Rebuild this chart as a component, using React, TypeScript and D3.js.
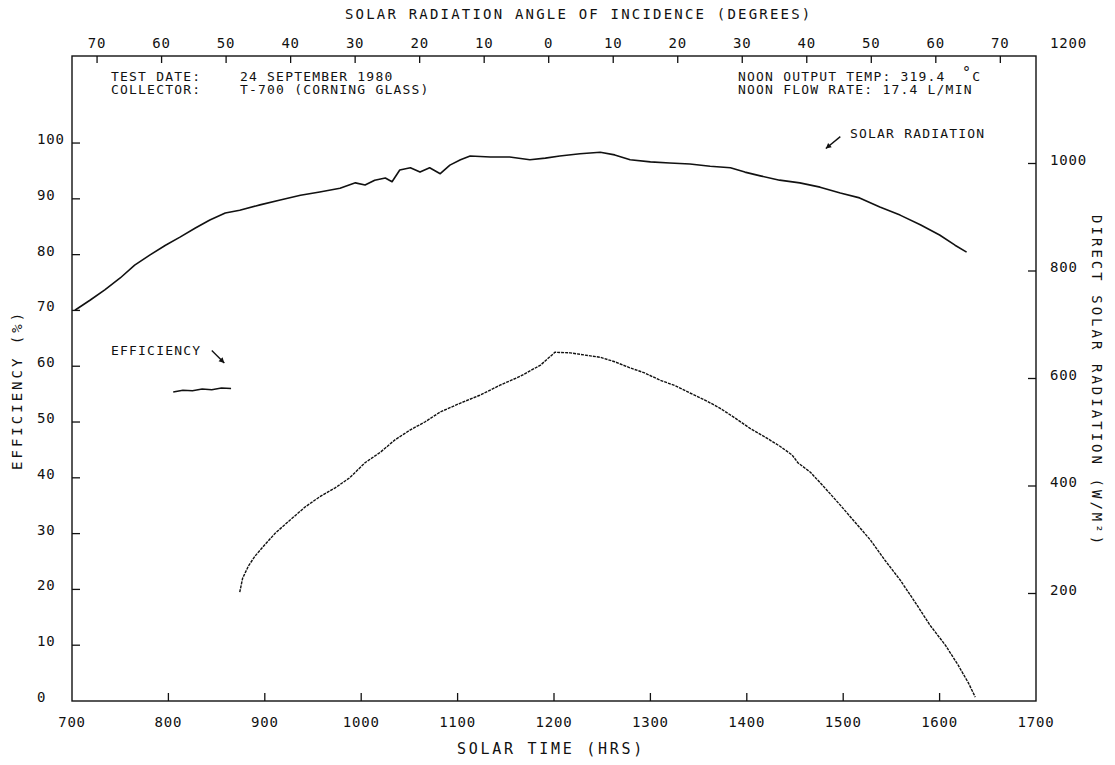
import React from "react";
import * as d3 from "d3";

// ---------- data ----------
// solar time in decimal hours, direct solar radiation in W/m²
const solarTime = [7.03, 7.19, 7.34, 7.50, 7.65, 7.81, 7.97, 8.12, 8.28, 8.43, 8.59, 8.74, 8.95, 9.16, 9.37, 9.57, 9.78, 9.94, 10.04, 10.14, 10.25, 10.32, 10.40, 10.51, 10.61, 10.71, 10.82, 10.92, 11.03, 11.13, 11.34, 11.54, 11.75, 11.91, 12.06, 12.27, 12.48, 12.63, 12.79, 13.00, 13.20, 13.41, 13.62, 13.83, 13.98, 14.14, 14.34, 14.55, 14.76, 14.97, 15.17, 15.38, 15.59, 15.80, 16.00, 16.16, 16.28];
const solarRadiation = [727, 746, 765, 787, 811, 830, 848, 863, 880, 895, 908, 913, 923, 932, 941, 947, 954, 964, 960, 969, 973, 966, 988, 992, 984, 992, 981, 997, 1007, 1014, 1012, 1012, 1007, 1010, 1014, 1018, 1021, 1016, 1007, 1003, 1001, 999, 995, 992, 984, 977, 969, 964, 956, 945, 936, 919, 904, 886, 867, 848, 835];

// efficiency (%), short early segment
const effTimeA = [8.05, 8.15, 8.25, 8.35, 8.45, 8.55, 8.65];
const effA = [55.4, 55.7, 55.6, 55.9, 55.8, 56.1, 56.0];

// efficiency (%), main curve
const effTimeB = [8.74, 8.77, 8.83, 8.90, 9.00, 9.11, 9.26, 9.42, 9.57, 9.73, 9.88, 10.04, 10.20, 10.35, 10.51, 10.66, 10.82, 11.03, 11.23, 11.44, 11.65, 11.86, 12.01, 12.17, 12.32, 12.48, 12.63, 12.79, 12.94, 13.10, 13.26, 13.41, 13.57, 13.72, 13.88, 14.03, 14.19, 14.34, 14.47, 14.53, 14.66, 14.81, 14.97, 15.12, 15.28, 15.43, 15.59, 15.75, 15.90, 16.06, 16.19, 16.30, 16.37];
const effB = [19.5, 22.0, 24.2, 26.0, 28.0, 30.1, 32.4, 34.8, 36.6, 38.2, 40.0, 42.7, 44.6, 46.8, 48.6, 50.0, 51.8, 53.4, 54.8, 56.6, 58.2, 60.2, 62.5, 62.4, 62.0, 61.6, 60.8, 59.7, 58.8, 57.5, 56.5, 55.2, 53.9, 52.5, 50.7, 48.9, 47.3, 45.7, 44.1, 42.7, 41.0, 38.2, 35.1, 32.1, 28.9, 25.3, 21.7, 17.6, 13.6, 10.0, 6.5, 3.2, 0.7];

// ticks
const timeTicks = [7, 8, 9, 10, 11, 12, 13, 14, 15, 16, 17];
const effTicks = [0, 10, 20, 30, 40, 50, 60, 70, 80, 90, 100];
const radTicks = [200, 400, 600, 800, 1000, 1200];
const angleTicks = [-70, -60, -50, -40, -30, -20, -10, 0, 10, 20, 30, 40, 50, 60, 70];

// ---------- layout ----------
const W = 1115, H = 765;
const L = 72, R = 1036, T = 56, B = 701;
const FONT = "'DejaVu Sans Mono', monospace";
const INK = "#111";

export default function App() {
  const x = d3.scaleLinear().domain([7, 17]).range([L, R]);
  const yE = d3.scaleLinear().domain([0, 115.6]).range([B, T]);
  const yR = d3.scaleLinear().domain([0, 1200]).range([B, T]);
  // angle of incidence scale on the top edge (about 15 degrees per hour around solar noon)
  const xAngle = d3.scaleLinear().domain([-70, 70]).range([x(7.26), x(16.63)]);

  const solarLine = d3.line<number>().x((_, i) => x(solarTime[i])).y((d) => yR(d));
  const effLineA = d3.line<number>().x((_, i) => x(effTimeA[i])).y((d) => yE(d));
  const effLineB = d3.line<number>().x((_, i) => x(effTimeB[i])).y((d) => yE(d));

  const tickLen = 8;
  const tickStyle = { stroke: INK, strokeWidth: 1.3 };
  const labelStyle: React.CSSProperties = { fontFamily: FONT, fontSize: 14, letterSpacing: 0.8, fill: INK };
  const annStyle: React.CSSProperties = { fontFamily: FONT, fontSize: 13, letterSpacing: 1.2, fill: INK };

  const arrow = (x1: number, y1: number, x2: number, y2: number) => {
    const ang = Math.atan2(y2 - y1, x2 - x1);
    const h = 6, w = 0.5;
    const p1 = [x2 - h * Math.cos(ang - w), y2 - h * Math.sin(ang - w)];
    const p2 = [x2 - h * Math.cos(ang + w), y2 - h * Math.sin(ang + w)];
    return (
      <g>
        <line x1={x1} y1={y1} x2={x2} y2={y2} stroke={INK} strokeWidth={1.4} />
        <polygon points={`${x2},${y2} ${p1[0]},${p1[1]} ${p2[0]},${p2[1]}`} fill={INK} />
      </g>
    );
  };

  return (
    <svg width={W} height={H} style={{ position: "absolute", left: 0, top: 0, background: "#fff" }}>
      <rect x={0} y={0} width={W} height={H} fill="#fff" />
      {/* frame */}
      <rect x={L} y={T} width={R - L} height={B - T} fill="none" stroke={INK} strokeWidth={1.4} />

      {/* bottom axis */}
      {timeTicks.map((t) => (
        <g key={"bt" + t}>
          {t > 7 && t < 17 && <line x1={x(t)} x2={x(t)} y1={B} y2={B - tickLen} {...tickStyle} />}
          <text x={x(t)} y={727} textAnchor="middle" style={labelStyle}>{t * 100}</text>
        </g>
      ))}
      <text x={457} y={754} textLength={186} lengthAdjust="spacing" style={{ ...labelStyle, fontSize: 15 }}>SOLAR TIME   (HRS)</text>

      {/* top axis: angle of incidence */}
      {angleTicks.map((a) => (
        <g key={"at" + a}>
          <line x1={xAngle(a)} x2={xAngle(a)} y1={T} y2={T + 7} {...tickStyle} />
          <text x={xAngle(a)} y={48} textAnchor="middle" style={labelStyle}>{Math.abs(a)}</text>
        </g>
      ))}
      <text x={345} y={19} textLength={466} lengthAdjust="spacing" style={{ ...labelStyle, fontSize: 14 }}>SOLAR RADIATION ANGLE OF INCIDENCE     (DEGREES)</text>

      {/* left axis: efficiency */}
      {effTicks.map((v) => (
        <g key={"le" + v}>
          {v > 0 && <line x1={L} x2={L + tickLen} y1={yE(v)} y2={yE(v)} {...tickStyle} />}
          <text x={37} y={yE(v) + 1} style={labelStyle}>{v}</text>
        </g>
      ))}
      <text transform={`translate(22,391) rotate(-90)`} textAnchor="middle" textLength={158} lengthAdjust="spacing" style={{ ...labelStyle, fontSize: 14 }}>EFFICIENCY   (%)</text>

      {/* right axis: direct solar radiation */}
      {radTicks.map((v) => (
        <g key={"rr" + v}>
          {v < 1200 && <line x1={R} x2={R - tickLen} y1={yR(v)} y2={yR(v)} {...tickStyle} />}
          <text x={1050} y={v < 1200 ? yR(v) + 1 : 48} style={labelStyle}>{v}</text>
        </g>
      ))}
      <text transform={`translate(1092,380) rotate(90)`} textAnchor="middle" textLength={330} lengthAdjust="spacing" style={{ ...labelStyle, fontSize: 14 }}>DIRECT SOLAR RADIATION  (W/M²)</text>

      {/* header notes */}
      <text x={111} y={81} style={annStyle}>TEST DATE:</text>
      <text x={240} y={81} style={annStyle}>24 SEPTEMBER 1980</text>
      <text x={111} y={94} style={annStyle}>COLLECTOR:</text>
      <text x={240} y={94} style={annStyle}>T-700 (CORNING GLASS)</text>

      <text x={738} y={81} style={annStyle}>NOON OUTPUT TEMP: 319.4</text>
      <text x={962} y={81} style={annStyle}><tspan fontSize={15} dy={-3}>°</tspan><tspan dy={3}>C</tspan></text>
      <text x={738} y={94} style={annStyle}>NOON FLOW RATE:   17.4 L/MIN</text>

      {/* series */}
      <path d={solarLine(solarRadiation) || ""} fill="none" stroke={INK} strokeWidth={1.6} strokeLinejoin="round" />
      <path d={effLineA(effA) || ""} fill="none" stroke={INK} strokeWidth={1.5} />
      <path d={effLineB(effB) || ""} fill="none" stroke={INK} strokeWidth={1.4} strokeDasharray="3 1" />

      {/* annotations */}
      <text x={111} y={355} style={annStyle}>EFFICIENCY</text>
      {arrow(x(8.45), yE(62.8), x(8.58), yE(60.6))}
      <text x={850} y={138} style={annStyle}>SOLAR RADIATION</text>
      {arrow(x(14.97), yR(1050), x(14.82), yR(1028))}
    </svg>
  );
}
